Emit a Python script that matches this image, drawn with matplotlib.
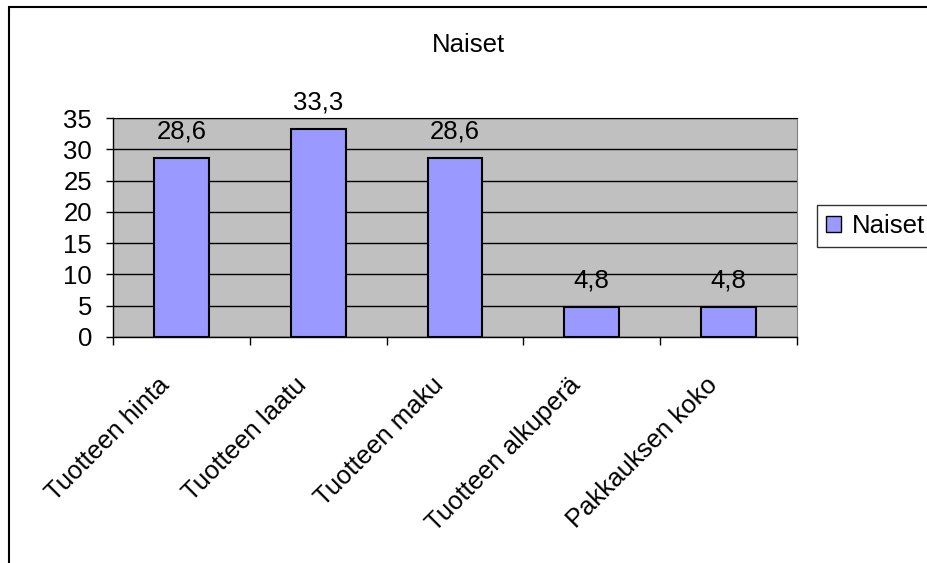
import matplotlib.pyplot as plt
import numpy as np
from matplotlib.patches import Patch, Rectangle

# data
categories = ['Tuotteen hinta', 'Tuotteen laatu', 'Tuotteen maku',
              'Tuotteen alkuperä', 'Pakkauksen koko']
values = [28.6, 33.3, 28.6, 4.8, 4.8]
series_name = 'Naiset'
y_ticks = [0, 5, 10, 15, 20, 25, 30, 35]

plt.rcParams['font.family'] = ['Liberation Sans', 'DejaVu Sans']
fs = 18.5

W, H = 928, 563
fig = plt.figure(figsize=(W / 100, H / 100), dpi=100)
ax = fig.add_axes([113 / W, 1 - 337 / H, (797 - 113) / W, (337 - 118) / H])
ax.set_facecolor('#C0C0C0')

x = np.arange(len(categories))
bars = ax.bar(x, values, width=0.4, color='#9999FF', edgecolor='black',
              linewidth=1.5, zorder=3)

for xi, v in zip(x, values):
    ax.annotate(f'{v:.1f}'.replace('.', ','), (xi, v), xytext=(0, 19),
                textcoords='offset points', ha='center', va='center',
                fontsize=fs)

ax.set_ylim(0, 35)
ax.set_xlim(-0.5, len(categories) - 0.5)
ax.set_yticks(y_ticks)
ax.set_yticklabels([str(t) for t in y_ticks], fontsize=fs)
ax.yaxis.grid(True, color='black', linewidth=1, zorder=1)
ax.set_axisbelow(True)

# category ticks sit between bars, labels at bar centres
ax.set_xticks(np.arange(len(categories) + 1) - 0.5)
ax.set_xticklabels([])
ax.tick_params(axis='x', direction='out', length=6, width=1, color='black')
ax.tick_params(axis='y', direction='out', length=5, width=1, pad=10)
for xi, lab in zip(x, categories):
    ax.annotate(lab, (xi, 0), xytext=(-11, -32), textcoords='offset points',
                rotation=45, ha='right', va='center', rotation_mode='anchor',
                fontsize=fs)

ax.spines['top'].set_color('black')
ax.spines['right'].set_color('#808080')
for s in ['left', 'bottom']:
    ax.spines[s].set_color('black')
    ax.spines[s].set_linewidth(1)

fig.text(468 / W, 1 - 45 / H, series_name, ha='center', va='center', fontsize=fs)

leg = fig.legend(handles=[Patch(facecolor='#9999FF', edgecolor='black', label=series_name)],
                 loc='upper left', bbox_to_anchor=(817 / W, 1 - 205 / H),
                 fontsize=fs, frameon=True, fancybox=False, edgecolor='black',
                 handlelength=0.6, handleheight=0.6, handletextpad=0.4,
                 borderpad=0.35, borderaxespad=0)
leg.get_frame().set_linewidth(1)

# outer chart frame (only left and top visible)
fig.add_artist(Rectangle((9 / W, -0.1), 1.2, 1.1 - 7 / H, transform=fig.transFigure,
                         fill=False, edgecolor='black', linewidth=1.5))

fig.savefig('out.png', dpi=100)
